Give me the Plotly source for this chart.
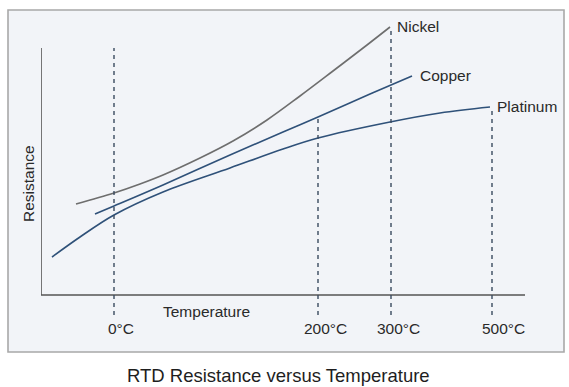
import plotly.graph_objects as go

# Schematic positions (arbitrary units along the axes)
tick_labels = ["0°C", "200°C", "300°C", "500°C"]
tick_pos = [73, 277, 350, 451]
tick_tops = [247, 179, 268, 188]

nickel_x = [35, 73, 99, 122, 159, 192, 226, 259, 292, 326, 349]
nickel_y = [91, 102, 111, 120, 137, 154, 175, 199, 224, 250, 268]

copper_x = [54, 73, 122, 189, 242, 277, 329, 371]
copper_y = [81, 89, 110, 140, 163, 178, 201, 219]

platinum_x = [11, 39, 73, 122, 189, 242, 277, 349, 399, 449]
platinum_y = [38, 58, 80, 103, 127, 146, 157, 173, 182, 188]

series = [
    ("Nickel", nickel_x, nickel_y, "#6e6e6e"),
    ("Copper", copper_x, copper_y, "#2f5179"),
    ("Platinum", platinum_x, platinum_y, "#2f5179"),
]

FONT = "Liberation Sans, Arial, sans-serif"
L, R, T, B = 41, 44, 10, 67
W, H = 569, 387
pw, ph = W - L - R, H - T - B

def px(x):
    return (x - L) / pw

def py(y):
    return (H - B - y) / ph

fig = go.Figure()

for name, xs, ys, col in series:
    fig.add_trace(go.Scatter(x=xs, y=ys, mode="lines", name=name,
                             line=dict(color=col, width=1.6, shape="spline", smoothing=1.0),
                             hoverinfo="skip"))

shapes = []
# panel background
shapes.append(dict(type="rect", xref="paper", yref="paper",
                   x0=px(8), x1=px(564), y0=py(352), y1=py(10),
                   fillcolor="#f2f4f8", line=dict(color="#a8a8a8", width=1.6),
                   layer="below"))
# axes
shapes.append(dict(type="line", xref="x", yref="y", x0=0, x1=0, y0=0, y1=247,
                   line=dict(color="#555555", width=1.6)))
shapes.append(dict(type="line", xref="x", yref="y", x0=0, x1=484, y0=0, y1=0,
                   line=dict(color="#555555", width=1.6)))
# dashed temperature markers
for p, top in zip(tick_pos, tick_tops):
    shapes.append(dict(type="line", xref="x", yref="y", x0=p, x1=p, y0=-20, y1=top,
                       line=dict(color="#3a4a60", width=1.4, dash="4px,4px")))

annotations = []
for lab, p in zip(tick_labels, tick_pos):
    off = 11 if lab == "500°C" else 7
    annotations.append(dict(x=px(p + L + off), y=py(328), xref="paper", yref="paper", text=lab,
                            showarrow=False, xanchor="center", yanchor="middle",
                            font=dict(family=FONT, size=15.5, color="#2a2a2a")))
# curve labels
for (name, xs, ys, col), dx in zip(series, [5, 6, 5]):
    annotations.append(dict(x=xs[-1] + dx, y=ys[-1] + 1, xref="x", yref="y", text=name,
                            showarrow=False, xanchor="left", yanchor="middle",
                            font=dict(family=FONT, size=15.5, color="#2a2a2a")))
annotations.append(dict(x=px(206), y=py(311), xref="paper", yref="paper", text="Temperature",
                        showarrow=False, xanchor="center", yanchor="middle",
                        font=dict(family=FONT, size=15.5, color="#2a2a2a")))
annotations.append(dict(x=px(28), y=py(184), xref="paper", yref="paper", text="Resistance",
                        showarrow=False, xanchor="center", yanchor="middle", textangle=-90,
                        font=dict(family=FONT, size=15.5, color="#2a2a2a")))
annotations.append(dict(x=px(278), y=py(375), xref="paper", yref="paper",
                        text="RTD Resistance versus Temperature",
                        showarrow=False, xanchor="center", yanchor="middle",
                        font=dict(family=FONT, size=18.5, color="#1e1e1e")))

fig.update_layout(
    width=W, height=H,
    margin=dict(l=L, r=R, t=T, b=B),
    paper_bgcolor="white", plot_bgcolor="rgba(0,0,0,0)",
    showlegend=False,
    shapes=shapes, annotations=annotations,
    xaxis=dict(range=[0, pw], visible=False, fixedrange=True),
    yaxis=dict(range=[-25, ph - 25], visible=False, fixedrange=True),
)

fig.write_html("out.html", config={"displayModeBar": False},
               post_script="document.body.style.margin='0';document.body.style.overflow='hidden';")
